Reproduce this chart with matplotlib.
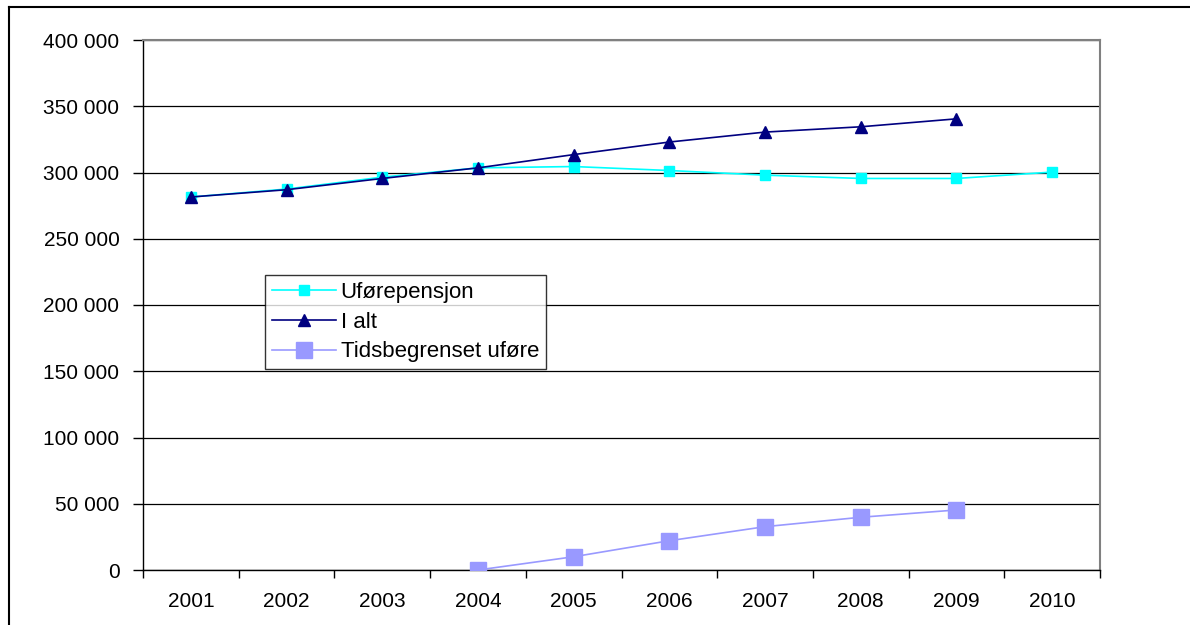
import numpy as np
import matplotlib
matplotlib.use("Agg")
import matplotlib.pyplot as plt
from matplotlib.ticker import FuncFormatter, FixedLocator
from matplotlib.lines import Line2D

plt.rcParams['font.family'] = ['Liberation Sans', 'DejaVu Sans']

# --- data ---
years = ['2001', '2002', '2003', '2004', '2005', '2006', '2007', '2008', '2009', '2010']
uforepensjon = [281500, 287500, 296500, 303500, 304500, 301500, 298000, 295500, 295500, 300300]
i_alt = [281500, 287000, 295500, 303500, 313500, 323000, 330500, 334500, 340500, None]
tidsbegrenset = [None, None, None, 0, 10000, 22100, 32700, 39800, 45300, None]

def to_arr(vals):
    return np.array([np.nan if v is None else v for v in vals], dtype=float)

x = np.arange(len(years))

fig = plt.figure(figsize=(11.9, 6.25), dpi=100)
ax = fig.add_axes([143 / 1190, 1 - 570 / 625, 957 / 1190, 530 / 625])

ax.plot(x, to_arr(uforepensjon), color='#00FFFF', lw=1.2, marker='s', ms=6.5,
        label='Uførepensjon', zorder=3)
ax.plot(x, to_arr(i_alt), color='#000080', lw=1.2, marker='^', ms=9,
        label='I alt', zorder=4)
ax.plot(x, to_arr(tidsbegrenset), color='#9999FF', lw=1.2, marker='s', ms=11,
        label='Tidsbegrenset uføre', zorder=3)

# --- axes ---
ax.set_xlim(-0.5, len(years) - 0.5)
ax.set_ylim(0, 400000)
ax.set_yticks(np.arange(0, 400001, 50000))
ax.yaxis.set_major_formatter(FuncFormatter(lambda v, p: f"{int(v):,}".replace(",", " ")))
ax.set_xticks(x)
ax.set_xticklabels(years)
ax.xaxis.set_minor_locator(FixedLocator(np.arange(-0.5, len(years), 1.0)))
ax.tick_params(axis='x', which='major', length=0, pad=16, labelsize=15)
ax.tick_params(axis='x', which='minor', length=6, width=1, color='black', direction='out')
ax.tick_params(axis='y', length=7, width=1, color='black', direction='out', pad=10, labelsize=15)

ax.grid(axis='y', color='black', lw=0.9)
ax.set_axisbelow(True)
for s in ['top', 'right']:
    ax.spines[s].set_color('#808080')
    ax.spines[s].set_linewidth(1.5)
for s in ['left', 'bottom']:
    ax.spines[s].set_color('black')
    ax.spines[s].set_linewidth(1.0)

leg = ax.legend(loc='upper left', bbox_to_anchor=(122 / 957, 295 / 530), borderaxespad=0,
                fontsize=16, frameon=True, fancybox=False, handlelength=2.9,
                labelspacing=0.4, borderpad=0.3, handletextpad=0.2)
leg.get_frame().set_edgecolor('black')
leg.get_frame().set_linewidth(1.0)

# outer chart border (left and top edges visible)
fig.add_artist(Line2D([9 / 1190, 9 / 1190], [0, 1 - 7 / 625], transform=fig.transFigure,
                      color='black', lw=1.5))
fig.add_artist(Line2D([9 / 1190, 1], [1 - 7 / 625, 1 - 7 / 625], transform=fig.transFigure,
                      color='black', lw=1.5))

fig.savefig('out.png', dpi=100)
